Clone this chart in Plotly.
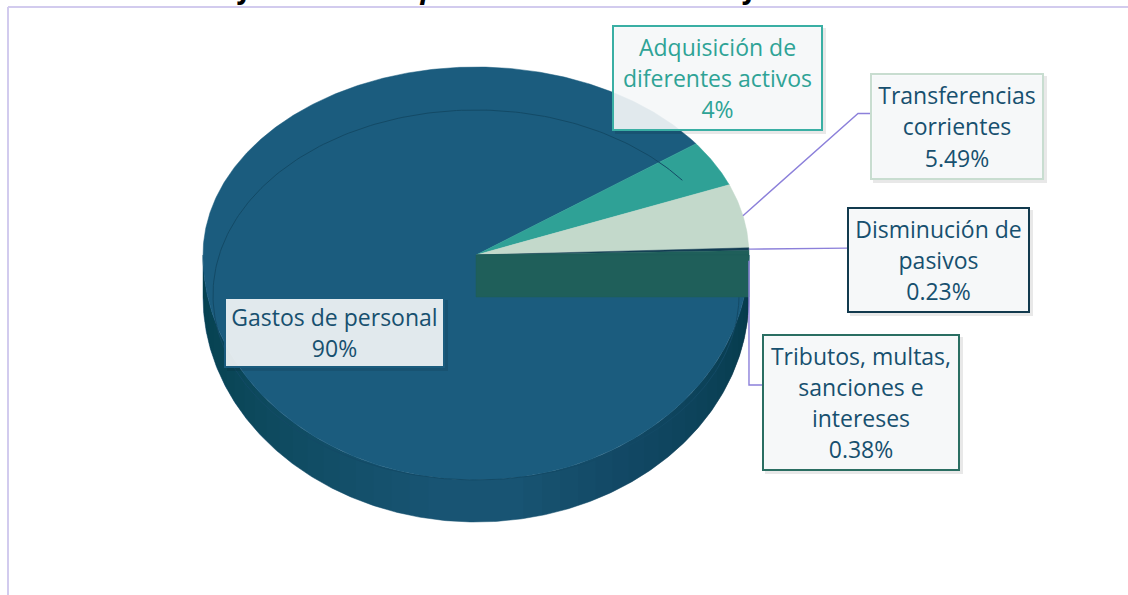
import numpy as np
import plotly.graph_objects as go

# ---------------- data ----------------
categories = [
    "Gastos de personal",
    "Adquisición de diferentes activos",
    "Transferencias corrientes",
    "Disminución de pasivos",
    "Tributos, multas, sanciones e intereses",
]
values = [90, 4, 5.49, 0.23, 0.38]
label_names = [
    "Gastos de personal",
    "Adquisición de<br>diferentes activos",
    "Transferencias<br>corrientes",
    "Disminución de<br>pasivos",
    "Tributos, multas,<br>sanciones e<br>intereses",
]
title_text = "Gráfica 3. Participación de los rubros de funcionamiento"

# ---------------- style ----------------
slice_colors = ["#1B5C7E", "#2FA196", "#C3D9CB", "#133D53", "#1F5F5A"]
label_text_colors = ["#17506F", "#2EA396", "#17506F", "#17506F", "#17506F"]
label_border_colors = ["#1B5C7E", "#3AAFA4", "#C8DDD0", "#123A4E", "#2A6E62"]
# label boxes (center x, center y, width, height) in page pixels
label_boxes = [
    (334.5, 332.5, 221, 71),
    (717.5, 78, 211, 106),
    (957, 126.5, 174, 107),
    (938.5, 260, 183, 106),
    (861, 402.5, 198, 137),
]
leader_color = "#8C80DA"
PAGE_W, PAGE_H = 1128, 595
CX, CY, A, B_UP, B_DN, DEPTH = 476, 255, 273, 188, 225, 42
FONT = "Open Sans"


def rim(theta_deg, dy=0.0):
    t = np.radians(np.asarray(theta_deg, dtype=float))
    s = np.sin(t)
    b = np.where(s > 0, B_UP, B_DN)
    return CX + A * np.cos(t), CY - b * s + dy


def shade(hex_color, f):
    h = hex_color.lstrip("#")
    r, g, b = (int(h[i:i + 2], 16) for i in (0, 2, 4))
    return "rgb({},{},{})".format(int(r * f), int(g * f), int(b * f))


def wall_poly(a0, a1):
    th = np.linspace(a0, a1, max(4, int(abs(a1 - a0) * 2)))
    xt, yt = rim(th)
    xb, yb = rim(th[::-1], DEPTH)
    return np.concatenate([xt, xb, xt[:1]]), np.concatenate([yt, yb, yt[:1]])


fig = go.Figure()

total = float(sum(values))
cum = np.concatenate([[0.0], np.cumsum(values)])
starts = -cum[:-1] / total * 360.0
ends = -cum[1:] / total * 360.0

# ---- side wall (front half only) ----
for i, (s0, e0) in enumerate(zip(starts, ends)):
    hi, lo = min(s0, 0.0), max(e0, -180.0)
    if hi <= lo:
        continue
    xw, yw = wall_poly(hi, lo)
    col = shade(slice_colors[i], 0.92)
    fig.add_trace(go.Scatter(x=xw, y=yw, fill="toself", fillcolor=col, mode="lines",
                             line=dict(color=col, width=0.5), hoverinfo="skip",
                             showlegend=False))
    # gradual darker shading toward both ends of the visible wall
    for span in range(4, 84, 4):
        for a0, a1, alpha in ((hi, max(lo, hi - span), 0.028),
                              (min(hi, lo + span), lo, 0.013)):
            xw, yw = wall_poly(a0, a1)
            fig.add_trace(go.Scatter(x=xw, y=yw, fill="toself",
                                     fillcolor="rgba(0,20,35,{})".format(alpha),
                                     mode="none", hoverinfo="skip", showlegend=False))

# ---- top faces ----
for i, (s0, e0) in enumerate(zip(starts, ends)):
    n = max(3, int(abs(s0 - e0) * 2))
    th = np.linspace(s0, e0, n)
    xr, yr = rim(th)
    fig.add_trace(go.Scatter(
        x=np.concatenate([[CX], xr, [CX]]), y=np.concatenate([[CY], yr, [CY]]),
        fill="toself", fillcolor=slice_colors[i], mode="lines",
        line=dict(color=slice_colors[i], width=0.5),
        name=categories[i], hoverinfo="name", showlegend=False))

# ---- bevel line over the large slice ----
phi = np.radians(np.linspace(ends[0] + 360 + 2, 360, 300))
fig.add_trace(go.Scatter(
    x=CX + 263 * np.cos(phi), y=CY + 40 - 185 * np.sin(phi), mode="lines",
    line=dict(color="#134A66", width=1), hoverinfo="skip", showlegend=False))

# ---- cut face of the last slice ----
xe, ye = rim(ends[-1])
fig.add_trace(go.Scatter(
    x=[CX, float(xe), float(xe), CX, CX],
    y=[CY, float(ye), float(ye) + DEPTH, CY + DEPTH, CY],
    fill="toself", fillcolor=slice_colors[-1], mode="lines",
    line=dict(color=slice_colors[-1], width=0.5), hoverinfo="skip", showlegend=False))

# ---- leader lines for outer labels ----
mids = (starts + ends) / 2
for i in (2, 3, 4):
    mx, my = rim(mids[i])
    bx, by, bw, bh = label_boxes[i]
    left = bx - bw / 2
    if i == 2:
        xs, ys = [float(mx), left - 12, left], [float(my), by - 13, by - 13]
    elif i == 3:
        xs, ys = [float(mx), left], [float(my), float(my) - 1]
    else:
        xs, ys = [float(mx), float(mx), left], [float(my) + 8, 385, 385]
    fig.add_trace(go.Scatter(x=xs, y=ys, mode="lines",
                             line=dict(color=leader_color, width=1.4),
                             hoverinfo="skip", showlegend=False))

# ---- labels ----
annotations = []
for i, v in enumerate(values):
    bx, by, bw, bh = label_boxes[i]
    lines = (label_names[i] + "<br>" + "{:g}%".format(v)).split("<br>")
    txt = "<br>".join('<span style="font-size:23px">{}</span>'.format(l) for l in lines)
    # shadow
    annotations.append(dict(
        x=bx + 3, y=by + 3, xref="x", yref="y", text="", showarrow=False,
        width=bw, height=bh, borderpad=0, borderwidth=0,
        bgcolor="rgba(0,0,0,0.09)"))
    annotations.append(dict(
        x=bx, y=by, xref="x", yref="y", text=txt, showarrow=False,
        width=bw - 4, height=bh - 4, borderpad=0, borderwidth=2,
        bordercolor=label_border_colors[i], bgcolor="rgba(247,250,251,0.9)",
        font=dict(family=FONT, size=24, color=label_text_colors[i]),
        align="center", valign="middle"))

annotations.append(dict(
    x=577, y=8, xref="x", yref="y", yanchor="bottom", showarrow=False,
    text="<b><i>" + title_text + "</i></b>",
    font=dict(family=FONT, size=29, color="#000000")))

# axis coordinates equal page pixels
fig.update_layout(
    width=PAGE_W, height=PAGE_H,
    margin=dict(l=0, r=0, t=0, b=0),
    paper_bgcolor="white", plot_bgcolor="white",
    xaxis=dict(range=[0, PAGE_W], visible=False, fixedrange=True),
    yaxis=dict(range=[PAGE_H, 0], visible=False, fixedrange=True),
    annotations=annotations,
    shapes=[
        dict(type="line", xref="x", yref="y", x0=8, x1=PAGE_W, y0=7, y1=7,
             line=dict(color="#D2CBEE", width=2)),
        dict(type="line", xref="x", yref="y", x0=8, x1=8, y0=7, y1=PAGE_H,
             line=dict(color="#D2CBEE", width=2)),
    ],
)

fig.write_html("out.html", config={"displayModeBar": False},
               post_script="document.body.style.margin='0px';document.body.style.overflow='hidden';")
